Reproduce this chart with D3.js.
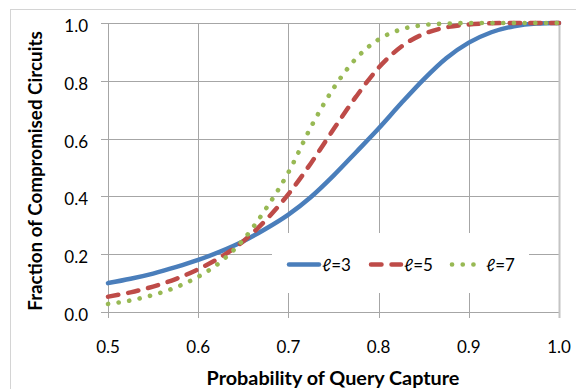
<!DOCTYPE html>
<html>
<head>
<meta charset="utf-8">
<script src="https://cdn.jsdelivr.net/npm/d3@7"></script>
<style>
  html, body { margin: 0; padding: 0; background: #fff; }
  svg { display: block; }
  text { font-family: Lato, "Open Sans", sans-serif; fill: #000; }
</style>
</head>
<body>
<svg id="chart" width="576" height="389"></svg>
<script>
const pValues = [0.5, 0.525, 0.55, 0.575, 0.6, 0.625, 0.65, 0.675, 0.7, 0.725, 0.75, 0.775, 0.8, 0.825, 0.85, 0.875, 0.9, 0.925, 0.95, 0.975, 1.0];
const l3 = [0.100, 0.115, 0.133, 0.155, 0.180, 0.210, 0.245, 0.288, 0.337, 0.398, 0.472, 0.553, 0.635, 0.722, 0.805, 0.878, 0.932, 0.968, 0.989, 0.998, 1.0];
const l5 = [0.053, 0.068, 0.088, 0.114, 0.148, 0.190, 0.245, 0.318, 0.408, 0.515, 0.632, 0.745, 0.845, 0.918, 0.962, 0.985, 0.995, 0.999, 1.0, 1.0, 1.0];
const l7 = [0.028, 0.040, 0.059, 0.085, 0.122, 0.174, 0.250, 0.357, 0.483, 0.640, 0.774, 0.877, 0.943, 0.978, 0.993, 0.998, 1.0, 1.0, 1.0, 1.0, 1.0];
const seriesNames = ["ℓ=3", "ℓ=5", "ℓ=7"];
const xTicks = [0.5, 0.6, 0.7, 0.8, 0.9, 1.0];
const yTicks = [0.0, 0.2, 0.4, 0.6, 0.8, 1.0];
const xTitle = "Probability of Query Capture";
const yTitle = "Fraction of Compromised Circuits";

const svg = d3.select("#chart");
const x = d3.scaleLinear().domain([0.5, 1.0]).range([108, 559]);
const y = d3.scaleLinear().domain([0, 1]).range([312, 23]);

// chart area border
svg.append("rect").attr("x", 10.5).attr("y", 9.5).attr("width", 600).attr("height", 400)
  .attr("fill", "none").attr("stroke", "#d4d4d4").attr("stroke-width", 1);

const gridColor = "#a6a6a6";
svg.append("g").selectAll("line").data(yTicks).join("line")
  .attr("x1", 101).attr("x2", 559)
  .attr("y1", d => Math.round(y(d)) + 0.5).attr("y2", d => Math.round(y(d)) + 0.5)
  .attr("stroke", gridColor).attr("stroke-width", 1);
svg.append("g").selectAll("line").data(xTicks).join("line")
  .attr("x1", d => Math.round(x(d)) + 0.5).attr("x2", d => Math.round(x(d)) + 0.5)
  .attr("y1", 23).attr("y2", 318)
  .attr("stroke", d => d === 1.0 ? "#c4c4c4" : gridColor)
  .attr("stroke-width", d => d === 1.0 ? 2 : 1);

svg.append("g").selectAll("text").data(yTicks).join("text")
  .attr("x", 88).attr("y", d => y(d) + 9)
  .attr("text-anchor", "end").attr("font-size", 17)
  .text(d => d.toFixed(1));
svg.append("g").selectAll("text").data(xTicks).join("text")
  .attr("x", d => x(d)).attr("y", 353)
  .attr("text-anchor", "middle").attr("font-size", 17)
  .text(d => d.toFixed(1));

svg.append("text").attr("x", 333).attr("y", 385)
  .attr("text-anchor", "middle").attr("font-size", 19.8).attr("font-weight", "bold")
  .text(xTitle);
svg.append("text").attr("transform", "translate(42,171) rotate(-90)")
  .attr("text-anchor", "middle").attr("font-size", 18.8).attr("font-weight", "bold")
  .text(yTitle);

const styles = [
  { color: "#4a7ebb", dash: null, width: 4.5 },
  { color: "#be4b48", dash: "10.5,10", width: 4.5 },
  { color: "#98b954", dash: "0.1,10.6", width: 4.6 }
];
const allSeries = [l3, l5, l7];
const line = d3.line().x(d => x(d[0])).y(d => y(d[1])).curve(d3.curveMonotoneX);
allSeries.forEach((vals, i) => {
  const pts = pValues.map((p, j) => [p, vals[j]]);
  svg.append("path").datum(pts)
    .attr("d", line)
    .attr("fill", "none")
    .attr("stroke", styles[i].color)
    .attr("stroke-width", styles[i].width)
    .attr("stroke-linecap", "round")
    .attr("stroke-linejoin", "round")
    .attr("stroke-dasharray", styles[i].dash);
});

const lg = svg.append("g");
lg.append("rect").attr("x", 272).attr("y", 233).attr("width", 257).attr("height", 60).attr("fill", "#fff");
const legendItems = [
  { x1: 289, x2: 319, tx: 322 },
  { x1: 371, x2: 401, tx: 404 },
  { x1: 452, x2: 474, tx: 486 }
];
legendItems.forEach((it, i) => {
  lg.append("line").attr("x1", it.x1).attr("x2", it.x2).attr("y1", 264.5).attr("y2", 264.5)
    .attr("stroke", styles[i].color).attr("stroke-width", styles[i].width)
    .attr("stroke-linecap", "round")
    .attr("stroke-dasharray", styles[i].dash);
  lg.append("text").attr("x", it.tx).attr("y", 271).attr("font-size", 17).text(seriesNames[i]);
});
</script>
</body>
</html>
